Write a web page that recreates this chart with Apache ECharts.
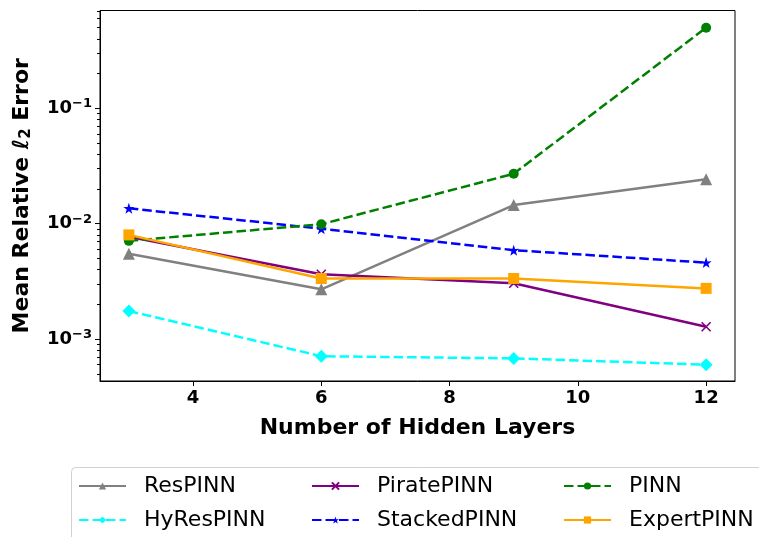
<!DOCTYPE html>
<html><head><meta charset="utf-8">
<script src="https://cdn.jsdelivr.net/npm/echarts@6/dist/echarts.min.js"></script>
<style>html,body{margin:0;padding:0;background:#fff}#c{width:759px;height:537px}</style>
</head><body><div id="c"></div>
<script>
const layers = [3, 6, 9, 12];
const resPINN = [5.5e-3, 2.7e-3, 1.45e-2, 2.43e-2];
const hyResPINN = [1.75e-3, 7.1e-4, 6.8e-4, 6.0e-4];
const piratePINN = [7.7e-3, 3.65e-3, 3.05e-3, 1.28e-3];
const stackedPINN = [1.36e-2, 9.05e-3, 5.9e-3, 4.6e-3];
const pinn = [7.1e-3, 9.9e-3, 2.71e-2, 0.50];
const expertPINN = [8.0e-3, 3.35e-3, 3.35e-3, 2.75e-3];
const xTicks = [4, 6, 8, 10, 12];
const yMajor = [1e-3, 1e-2, 1e-1];
const yMinor = [5e-4,6e-4,7e-4,8e-4,9e-4,2e-3,3e-3,4e-3,5e-3,6e-3,7e-3,8e-3,9e-3,2e-2,3e-2,4e-2,5e-2,6e-2,7e-2,8e-2,9e-2,0.2,0.3,0.4,0.5,0.6,0.7];
const supMap = {'-1':'−1','-2':'−2','-3':'−3'};

const STAR = 'path://M50,0 L61.8,35.1 L97.6,34.5 L69,56.1 L79.4,90.5 L50,70 L20.6,90.5 L31,56.1 L2.4,34.5 L38.2,35.1 Z';
const XMARK = 'path://M0,0 L10,10 M10,0 L0,10';
const DASH = [9.5, 4];
const FONT = 'DejaVu Sans';

function mk(name, vals, color, symbol, size, dashed, extra) {
  const s = {
    name: name, type: 'line', data: layers.map((x, i) => [x, vals[i]]),
    symbol: symbol, symbolSize: size, showSymbol: true,
    lineStyle: {color: color, width: 2.5, type: dashed ? DASH : 'solid'},
    itemStyle: {color: color},
    emphasis: {disabled: true}, animation: false, z: 3
  };
  return Object.assign(s, extra || {});
}

const series = [
  mk('ResPINN', resPINN, '#808080', 'triangle', 12, false),
  mk('HyResPINN', hyResPINN, '#00ffff', 'diamond', 13, true),
  mk('PiratePINN', piratePINN, '#800080', XMARK, 9, false, {itemStyle: {color: 'none', borderColor: '#800080', borderWidth: 1.6}}),
  mk('StackedPINN', stackedPINN, '#0000ff', STAR, 11, true),
  mk('PINN', pinn, '#008000', 'circle', 10, true),
  mk('ExpertPINN', expertPINN, '#ffa500', 'rect', 11, false)
];

const legendPos = [
  ['ResPINN', 78, 475], ['PiratePINN', 311, 475], ['PINN', 563, 475],
  ['HyResPINN', 78, 509], ['StackedPINN', 311, 509], ['ExpertPINN', 563, 509]
];
const legends = legendPos.map(p => ({
  data: [p[0]], left: p[1], top: p[2], itemWidth: 47, itemHeight: 9, itemGap: 0,
  padding: 0, selectedMode: false,
  textStyle: {fontFamily: FONT, fontSize: 22, color: '#000', padding: [0, 0, 0, 13]}
}));

const chart = echarts.init(document.getElementById('c'), null, {renderer: 'canvas'});
chart.setOption({
  animation: false,
  backgroundColor: '#fff',
  grid: {left: 100, right: 24, top: 10.5, bottom: 156, show: true, borderColor: '#000', borderWidth: 1, backgroundColor: 'transparent'},
  graphic: [{
    type: 'rect', left: 71, top: 467, silent: true,
    shape: {width: 720, height: 100, r: 4},
    style: {fill: '#fff', stroke: '#d0d0d0', lineWidth: 1}, z: 0
  }],
  legend: legends,
  xAxis: {
    type: 'value', min: 2.55, max: 12.45,
    name: 'Number of Hidden Layers', nameLocation: 'middle', nameGap: 36,
    nameTextStyle: {fontFamily: FONT, fontSize: 22, fontWeight: 'bold', color: '#000'},
    axisLine: {show: true, onZero: false, lineStyle: {color: '#000', width: 1}},
    axisTick: {show: true, length: 5, customValues: xTicks, lineStyle: {color: '#000'}},
    axisLabel: {customValues: xTicks, fontFamily: FONT, fontSize: 18, fontWeight: 'bold', color: '#000', margin: 8},
    splitLine: {show: false}
  },
  yAxis: [{
    type: 'log', logBase: 10, min: 4.33e-4, max: 0.705,
    name: '{a|Mean Relative }{l|ℓ}{s|2}{a| Error}', nameLocation: 'middle', nameGap: 66, nameRotate: 90,
    nameTextStyle: {rich: {
      a: {fontFamily: FONT, fontSize: 22, fontWeight: 'bold', color: '#000'},
      l: {fontFamily: FONT, fontSize: 22, fontStyle: 'italic', fontWeight: 'bold', color: '#000'},
      s: {fontFamily: FONT, fontSize: 15, fontWeight: 'bold', color: '#000', verticalAlign: 'bottom', padding: [9, 0, 0, 0]}
    }},
    axisLine: {show: true, lineStyle: {color: '#000', width: 1}},
    axisTick: {show: true, length: 5, customValues: yMajor, lineStyle: {color: '#000'}},
    axisLabel: {
      customValues: yMajor, margin: 8,
      formatter: v => { const e = Math.round(Math.log10(v)); return '{b|10}{e|' + supMap[String(e)] + '}'; },
      rich: {
        b: {fontFamily: FONT, fontSize: 18, fontWeight: 'bold', color: '#000'},
        e: {fontFamily: FONT, fontSize: 13, fontWeight: 'bold', color: '#000', verticalAlign: 'top', padding: [0, 0, 9, 0]}
      }
    },
    splitLine: {show: false}
  }, {
    type: 'log', logBase: 10, min: 4.33e-4, max: 0.705, position: 'left', offset: 0,
    axisLine: {show: false},
    axisTick: {show: true, length: 3, customValues: yMinor, lineStyle: {color: '#000'}},
    axisLabel: {show: false}, splitLine: {show: false}
  }],
  series: series
});
</script></body></html>
